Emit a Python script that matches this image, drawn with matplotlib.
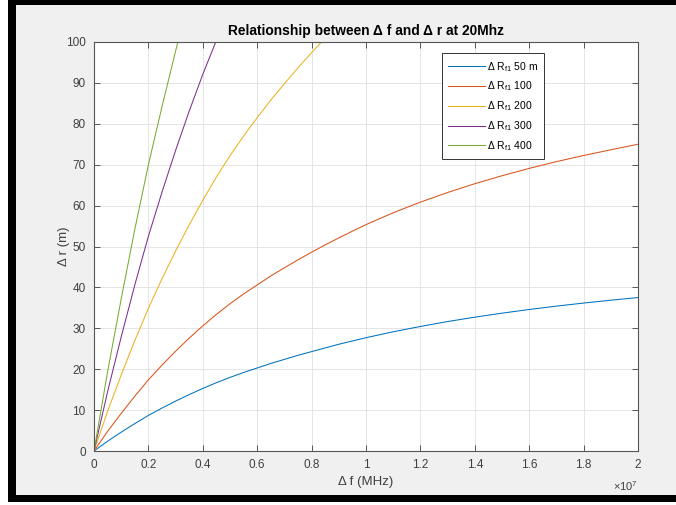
import matplotlib
matplotlib.use("Agg")
import matplotlib.pyplot as plt
from matplotlib.patches import Rectangle
from matplotlib.ticker import FuncFormatter

# frequency offset, in units of 1e7 Hz
freq = [0, 0.05, 0.1, 0.15, 0.2, 0.25, 0.3, 0.35, 0.4, 0.45, 0.5, 0.55,
        0.6, 0.65, 0.7, 0.75, 0.8, 0.85, 0.9, 0.95, 1.0, 1.1, 1.2, 1.3,
        1.4, 1.5, 1.6, 1.7, 1.8, 1.9, 2.0]

r50 = [0, 2.4, 4.6, 6.7, 8.7, 10.5, 12.2, 13.8, 15.3, 16.7, 18.0, 19.2,
       20.3, 21.4, 22.4, 23.4, 24.3, 25.2, 26.1, 26.9, 27.7, 29.15, 30.45,
       31.65, 32.72, 33.7, 34.6, 35.42, 36.17, 36.87, 37.52]
r100 = [0, 4.8, 9.2, 13.4, 17.4, 21.0, 24.4, 27.6, 30.6, 33.4, 36.0, 38.4,
        40.6, 42.8, 44.8, 46.75, 48.6, 50.4, 52.1, 53.75, 55.35, 58.25, 60.85,
        63.2, 65.35, 67.3, 69.1, 70.75, 72.25, 73.65, 75.0]
r200 = [0, 9.7, 18.6, 27.0, 34.9, 42.1, 48.9, 55.3, 61.3, 67.0, 72.2, 77.0,
        81.5, 85.8, 89.8, 93.7, 97.4, 101.0]
r300 = [0, 14.5, 27.9, 40.6, 52.5, 63.3, 73.5, 83.1, 92.1, 100.4, 108.2]
r400 = [0, 19.4, 37.2, 54.2, 70.0, 84.2, 97.8, 110.6]

labels = ["50 m", "100", "200", "300", "400"]
colors = ["#0072BD", "#D95319", "#EDB120", "#7E2F8E", "#77AC30"]
series = [r50, r100, r200, r300, r400]

xticks = [0, 0.2, 0.4, 0.6, 0.8, 1.0, 1.2, 1.4, 1.6, 1.8, 2.0]
yticks = list(range(0, 101, 10))

plt.rcParams["font.family"] = ["Liberation Sans", "DejaVu Sans"]
plt.rcParams["mathtext.fontset"] = "custom"
plt.rcParams["mathtext.rm"] = "Liberation Sans"
plt.rcParams["mathtext.it"] = "Liberation Sans:italic"

W, H = 676, 505
fig = plt.figure(figsize=(W / 100, H / 100), dpi=100, facecolor="#F0F0F0")


def px_rect(x0, y0, w, h, color):
    # rectangle given in pixels from the top-left corner
    r = Rectangle((x0 / W, 1 - (y0 + h) / H), w / W, h / H,
                  transform=fig.transFigure, facecolor=color,
                  edgecolor="none", zorder=-1)
    fig.add_artist(r)


# screenshot frame
px_rect(0, 0, 8, H, "white")
px_rect(8, 0, 8, 502, "black")
px_rect(8, 0, W - 8, 5, "black")
px_rect(8, 495, W - 8, 7, "black")
px_rect(8, 502, W - 8, 3, "white")

ax = fig.add_axes([94 / W, 1 - 451 / H, 544 / W, 409 / H])
ax.set_facecolor("white")

for ys, lab, c in zip(series, labels, colors):
    ax.plot(freq[:len(ys)], ys, color=c, lw=0.75,
            label="Δ $\\mathrm{R}_{\\mathrm{f1}}$ " + lab)

ax.set_xlim(0, 2)
ax.set_ylim(0, 100)
ax.set_xticks(xticks)
ax.set_yticks(yticks)
ax.xaxis.set_major_formatter(FuncFormatter(lambda v, p: "%g" % v))
ax.grid(True, color="#E0E0E0", lw=0.6)
ax.set_axisbelow(True)

tc = "#404040"
ax.tick_params(direction="in", length=4, width=0.6, colors=tc,
               labelsize=8.5, top=True, right=True, pad=6)
for s in ax.spines.values():
    s.set_color("#555555")
    s.set_linewidth(0.8)

ax.set_title("Relationship between Δ f and Δ r at 20Mhz", fontsize=9.9,
             fontweight="bold", color="black", pad=5)
ax.set_xlabel("Δ f (MHz)", fontsize=9.5, color=tc, labelpad=3)
ax.set_ylabel("Δ r (m)", fontsize=9.5, color=tc, labelpad=-3)
ax.text(1.0, -0.085, "$\\times10^{7}$", transform=ax.transAxes,
        ha="right", va="center", fontsize=8, color=tc)

leg = ax.legend(loc="upper left", bbox_to_anchor=(0.64, 0.972),
                fontsize=7.5, handlelength=3.5, handletextpad=0.2,
                labelspacing=0.58, borderpad=0.6, fancybox=False,
                framealpha=1, edgecolor="#333333", borderaxespad=0)
leg.get_frame().set_linewidth(0.7)

fig.savefig("out.png", dpi=100, facecolor=fig.get_facecolor())
